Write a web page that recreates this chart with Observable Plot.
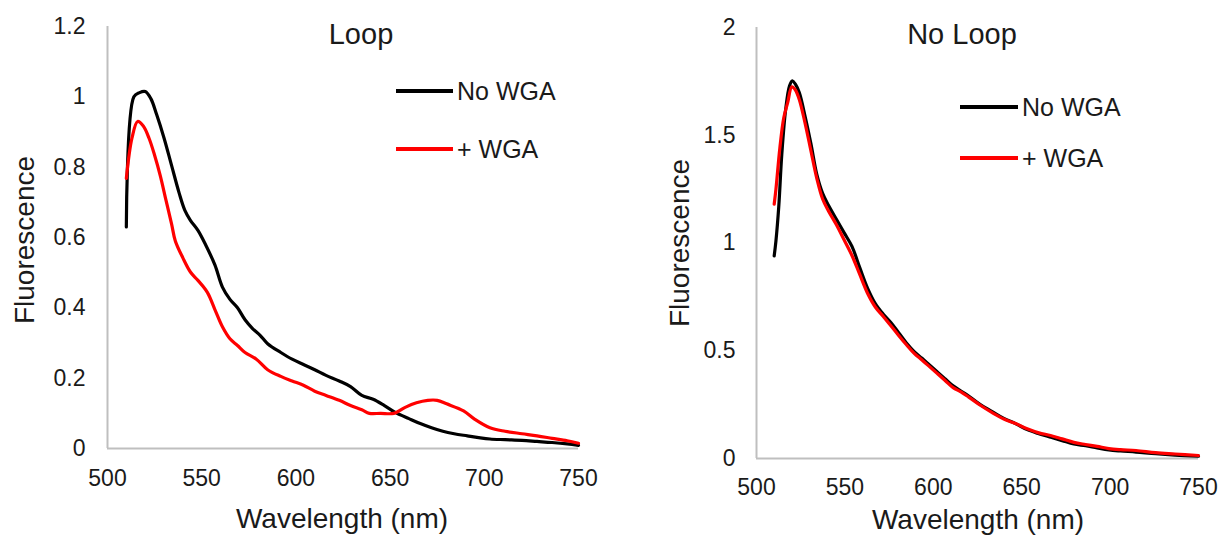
<!DOCTYPE html>
<html>
<head>
<meta charset="utf-8">
<script src="https://cdn.jsdelivr.net/npm/d3@7"></script>
<script src="https://cdn.jsdelivr.net/npm/@observablehq/plot@0.6"></script>
<style>
  html, body { margin: 0; padding: 0; background: #fff; }
  #wrap { position: relative; width: 1219px; height: 537px; overflow: hidden; font-family: "Liberation Sans", Arial, sans-serif; color: #1a1a1a; }
  .panel { position: absolute; top: 0; height: 537px; }
  .lbl { position: absolute; white-space: nowrap; line-height: 1; transform: translate(-50%, -50%); }
  .rot { transform: translate(-50%, -50%) rotate(-90deg); }
  .leg { position: absolute; white-space: nowrap; line-height: 1; font-size: 25px; transform: translateY(-50%); }
  .sw { position: absolute; height: 4px; transform: translateY(-50%); }
</style>
</head>
<body>
<div id="wrap"></div>
<script>
// ---------- Data ----------
const xTicks = [500, 550, 600, 650, 700, 750];
const leftYTicks = [0, 0.2, 0.4, 0.6, 0.8, 1, 1.2];
const rightYTicks = [0, 0.5, 1, 1.5, 2];
const seriesNames = ["No WGA", "+ WGA"];
const panelTitles = ["Loop", "No Loop"];

// Left panel ("Loop")
const loopNoWGA_wl = [510,514,517,520,523,526,530,534,538,541,544,548,552,557,561,565,569,573,577,581,585,592,598,604,610,616,623,629,635,641,647,653,660,666,672,678,684,691,697,703,711,720,728,736,744,750];
const loopNoWGA    = [0.63,1.0,1.012,1.015,0.995,0.951,0.883,0.805,0.727,0.678,0.649,0.62,0.58,0.522,0.459,0.424,0.4,0.366,0.341,0.322,0.298,0.273,0.254,0.239,0.224,0.208,0.192,0.176,0.151,0.14,0.122,0.102,0.085,0.071,0.059,0.049,0.042,0.036,0.031,0.027,0.025,0.023,0.02,0.017,0.013,0.009];
const loopWGA_wl   = [510,513,516,519,522,525,528,531,534,536,540,544,548,553,557,561,565,569,573,579,585,592,598,604,610,616,623,629,635,639,645,652,658,664,670,675,680,689,695,703,711,720,728,736,744,750];
const loopWGA      = [0.768,0.883,0.93,0.917,0.883,0.834,0.776,0.707,0.639,0.59,0.542,0.502,0.478,0.444,0.395,0.346,0.312,0.293,0.273,0.254,0.224,0.205,0.192,0.18,0.163,0.151,0.137,0.122,0.11,0.1,0.1,0.1,0.117,0.13,0.137,0.137,0.127,0.107,0.083,0.059,0.049,0.042,0.036,0.029,0.022,0.015];

// Right panel ("No Loop")
const noLoopNoWGA_wl = [510,511,512.6,514.3,516.5,518.7,520.3,522,524.2,527.5,530.8,534.1,537.4,540.7,545.2,549.6,554,558.4,562.8,567.2,571.6,576,580.4,584.8,589.2,593.6,598,602.4,606.8,611.2,615.6,620,626.6,633.3,639.9,646.5,653.1,659.7,666.3,672.9,679.5,686.1,692.7,699.3,705.9,714.7,725.8,736.8,750];
const noLoopNoWGA    = [0.94,1.01,1.17,1.41,1.62,1.73,1.753,1.737,1.698,1.587,1.46,1.318,1.23,1.175,1.11,1.047,0.984,0.886,0.791,0.719,0.671,0.631,0.584,0.536,0.496,0.465,0.433,0.401,0.369,0.337,0.313,0.29,0.25,0.218,0.186,0.162,0.134,0.115,0.099,0.083,0.067,0.059,0.049,0.04,0.035,0.03,0.022,0.016,0.011];
const noLoopWGA_wl   = [510,511,513.2,515.4,517.6,520,522,524.2,527.5,530.8,534.1,537.4,540.7,545.2,549.6,554,558.4,562.8,567.2,571.6,576,580.4,584.8,589.2,593.6,598,602.4,606.8,611.2,615.6,620,626.6,633.3,639.9,646.5,653.1,659.7,666.3,672.9,679.5,686.1,692.7,699.3,705.9,714.7,725.8,736.8,750];
const noLoopWGA      = [1.18,1.25,1.44,1.58,1.65,1.725,1.71,1.666,1.555,1.427,1.3,1.204,1.149,1.085,1.014,0.942,0.854,0.767,0.703,0.66,0.616,0.571,0.528,0.488,0.457,0.425,0.393,0.361,0.329,0.309,0.285,0.247,0.213,0.183,0.162,0.138,0.119,0.107,0.091,0.075,0.065,0.056,0.046,0.041,0.037,0.027,0.021,0.014];

const colors = ["#000000", "#ff0000"];

function rows(wl, vals, name) { return wl.map((w, i) => ({ wl: w, f: vals[i], series: name })); }

const wrap = document.getElementById("wrap");

function makePanel(cfg) {
  const div = document.createElement("div");
  div.className = "panel";
  div.style.left = cfg.left + "px";
  div.style.width = cfg.width + "px";
  wrap.appendChild(div);

  const data = [
    ...rows(cfg.s1wl, cfg.s1, seriesNames[0]),
    ...rows(cfg.s2wl, cfg.s2, seriesNames[1])
  ];

  const chart = Plot.plot({
    width: cfg.width,
    height: 537,
    marginLeft: cfg.mL, marginRight: cfg.mR, marginTop: cfg.mT, marginBottom: cfg.mB,
    style: { fontFamily: '"Liberation Sans", Arial, sans-serif', fontSize: "23px", color: "#1a1a1a", background: "transparent", overflow: "visible" },
    x: { domain: [500, 750] },
    y: { domain: cfg.yDomain },
    color: { domain: seriesNames, range: colors },
    marks: [
      Plot.ruleY([0], { stroke: "#bfbfbf", strokeWidth: 2 }),
      Plot.ruleX([500], { y1: cfg.yDomain[0], y2: cfg.yDomain[1], stroke: "#bfbfbf", strokeWidth: 2 }),
      Plot.axisX({ ticks: xTicks, tickSize: 0, tickPadding: cfg.xPad, label: null }),
      Plot.axisY({ ticks: cfg.yTicks, tickSize: 0, tickPadding: cfg.yPad, label: null, tickFormat: d => String(d) }),
      Plot.line(data, { x: "wl", y: "f", z: "series", stroke: "series", strokeWidth: 3.2, curve: "catmull-rom" })
    ]
  });
  div.appendChild(chart);

  const add = (cls, text, x, y, size) => {
    const e = document.createElement("div");
    e.className = cls;
    e.textContent = text;
    e.style.left = x + "px"; e.style.top = y + "px";
    if (size) e.style.fontSize = size + "px";
    div.appendChild(e);
    return e;
  };
  add("lbl", cfg.title, cfg.titleX, cfg.titleY, 29);
  add("lbl rot", "Fluorescence", cfg.yLabX, cfg.yLabY, 28);
  add("lbl", "Wavelength (nm)", cfg.xLabX, cfg.xLabY, 28);

  // legend
  seriesNames.forEach((n, i) => {
    const sw = document.createElement("div");
    sw.className = "sw";
    sw.style.left = cfg.legX + "px";
    sw.style.width = cfg.legW + "px";
    sw.style.top = cfg.legY[i] + "px";
    sw.style.background = colors[i];
    div.appendChild(sw);
    add("leg", n, cfg.legX + cfg.legW + 4, cfg.legY[i]);
  });
}

makePanel({
  left: 0, width: 610, mL: 107, mR: 32, mT: 26, mB: 89,
  yDomain: [0, 1.2], yTicks: leftYTicks, xPad: 21, yPad: 22,
  s1wl: loopNoWGA_wl, s1: loopNoWGA, s2wl: loopWGA_wl, s2: loopWGA,
  title: panelTitles[0], titleX: 361, titleY: 34,
  yLabX: 25, yLabY: 240, xLabX: 342, xLabY: 519,
  legX: 396, legW: 57, legY: [91, 149]
});

makePanel({
  left: 610, width: 609, mL: 146, mR: 21, mT: 27, mB: 79,
  yDomain: [0, 2], yTicks: rightYTicks, xPad: 20, yPad: 21,
  s1wl: noLoopNoWGA_wl, s1: noLoopNoWGA, s2wl: noLoopWGA_wl, s2: noLoopWGA,
  title: panelTitles[1], titleX: 352, titleY: 34,
  yLabX: 70, yLabY: 243, xLabX: 368, xLabY: 520,
  legX: 350, legW: 58, legY: [107, 158]
});
</script>
</body>
</html>
